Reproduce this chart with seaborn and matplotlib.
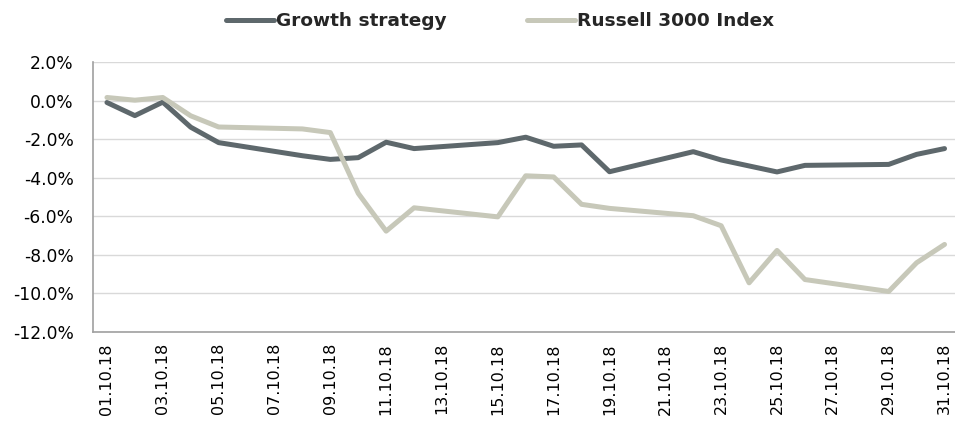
import pandas as pd
import matplotlib
matplotlib.use("Agg")
import matplotlib.pyplot as plt
import matplotlib.dates as mdates
from matplotlib.ticker import PercentFormatter, MultipleLocator
import seaborn as sns

# trading days in October 2018
days = [1, 2, 3, 4, 5, 8, 9, 10, 11, 12, 15, 16, 17, 18, 19,
        22, 23, 24, 25, 26, 29, 30, 31]
growth = [-0.10, -0.78, -0.08, -1.38, -2.18, -2.86, -3.05, -2.96, -2.16, -2.49,
          -2.18, -1.90, -2.37, -2.30, -3.69, -2.65, -3.08, -3.39, -3.70, -3.36,
          -3.31, -2.79, -2.49]
russell = [0.16, 0.02, 0.16, -0.79, -1.37, -1.47, -1.66, -4.81, -6.77, -5.56,
           -6.03, -3.90, -3.96, -5.38, -5.59, -5.97, -6.49, -9.45, -7.77, -9.28,
           -9.90, -8.41, -7.46]

dates = pd.to_datetime([f"2018-10-{d:02d}" for d in days])
df = pd.DataFrame({"Date": dates, "Growth strategy": growth, "Russell 3000 Index": russell})

sns.set_style("white")
plt.rcParams["font.family"] = ["DejaVu Sans"]
plt.rcParams["axes.unicode_minus"] = False

fig = plt.figure(figsize=(9.55, 4.22), dpi=100)
ax = fig.add_axes([93 / 955, 1 - 332 / 422, 862 / 955, 270 / 422])

sns.lineplot(data=df, x="Date", y="Growth strategy", ax=ax, color="#5e686c",
             linewidth=3.6, label="Growth strategy", solid_capstyle="round")
sns.lineplot(data=df, x="Date", y="Russell 3000 Index", ax=ax, color="#c7c8b9",
             linewidth=3.6, label="Russell 3000 Index", solid_capstyle="round")

ax.set_ylim(-12, 2)
ax.yaxis.set_major_locator(MultipleLocator(2))
ax.yaxis.set_major_formatter(PercentFormatter(decimals=1))

x0 = pd.Timestamp("2018-10-01") - pd.Timedelta(hours=12)
x1 = pd.Timestamp("2018-10-31") + pd.Timedelta(hours=9)
ax.set_xlim(x0, x1)
ax.xaxis.set_major_locator(mdates.DayLocator(bymonthday=range(1, 32, 2)))
ax.xaxis.set_major_formatter(mdates.DateFormatter("%d.%m.%y"))

ax.grid(axis="y", color="#d9d9d9", linewidth=1)
ax.set_axisbelow(True)
for s in ["top", "right"]:
    ax.spines[s].set_visible(False)
for s in ["left", "bottom"]:
    ax.spines[s].set_color("#a0a0a0")
    ax.spines[s].set_linewidth(1.2)

ax.tick_params(axis="y", length=0, pad=14, labelsize=12.3, labelcolor="black")
ax.tick_params(axis="x", length=0, pad=8, labelsize=11.5, labelcolor="black", rotation=90)
ax.set_xlabel("")
ax.set_ylabel("")

ax.legend(loc="center", bbox_to_anchor=(500 / 955, 1 - 21 / 422),
          bbox_transform=fig.transFigure, ncol=2, frameon=False,
          handlelength=2.6, handletextpad=0.1, columnspacing=4.4,
          prop={"weight": "bold", "size": 13.3})

fig.savefig("out.png", dpi=100)
